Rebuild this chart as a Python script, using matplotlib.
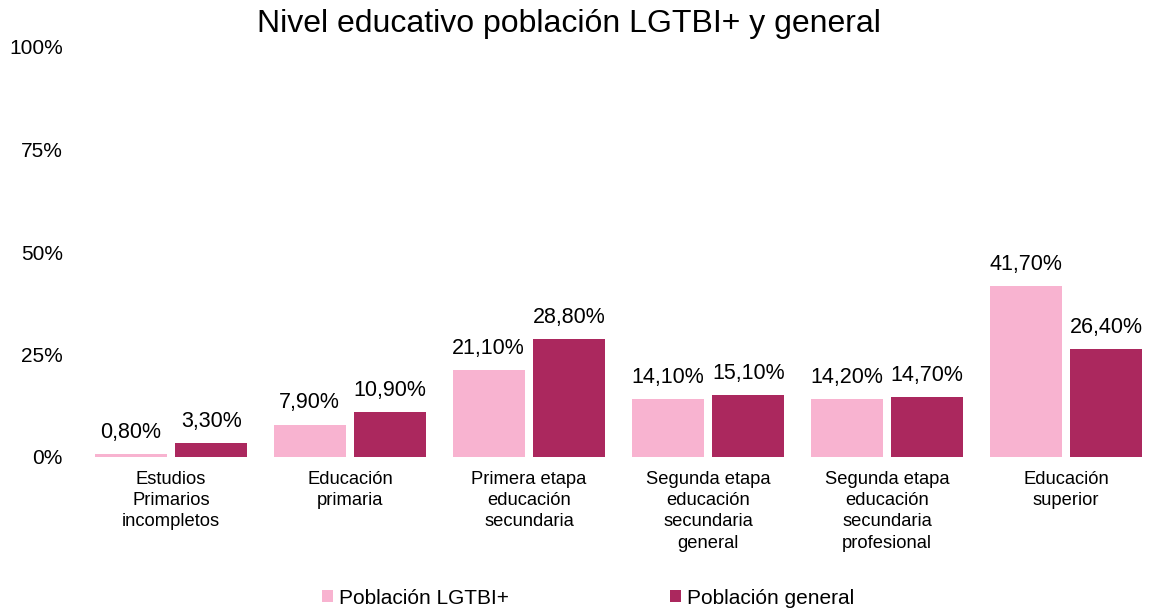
import matplotlib
matplotlib.use("Agg")
import matplotlib.pyplot as plt
import numpy as np

categories = ["Estudios\nPrimarios\nincompletos", "Educación\nprimaria",
              "Primera etapa\neducación\nsecundaria", "Segunda etapa\neducación\nsecundaria\ngeneral",
              "Segunda etapa\neducación\nsecundaria\nprofesional", "Educación\nsuperior"]
lgtbi = [0.8, 7.9, 21.1, 14.1, 14.2, 41.7]
general = [3.3, 10.9, 28.8, 15.1, 14.7, 26.4]
series_names = ["Población LGTBI+", "Población general"]
yticks = [0, 25, 50, 75, 100]

plt.rcParams['font.family'] = ['Liberation Sans', 'DejaVu Sans']

fig = plt.figure(figsize=(11.52, 6.12), dpi=100)
W, H = 1152, 612
ax = fig.add_axes([60 / W, 1 - 457 / H, (1152 - 60) / W, (457 - 47) / H])

x = np.arange(len(categories))
bw = 0.40
off = 0.225
c1, c2 = "#F8B3D0", "#AB285E"
b1 = ax.bar(x - off, lgtbi, bw, color=c1, label=series_names[0])
b2 = ax.bar(x + off, general, bw, color=c2, label=series_names[1])

for bars, vals in ((b1, lgtbi), (b2, general)):
    for r, v in zip(bars, vals):
        ax.annotate(f"{v:.2f}".replace(".", ",") + "%",
                    (r.get_x() + r.get_width() / 2, v), xytext=(0, 8),
                    textcoords="offset points", ha="center", va="bottom", fontsize=15.5)

ax.set_xlim((60 - 171) / 179, (1152 - 171) / 179)
ax.set_ylim(0, 100)
ax.set_yticks(yticks)
ax.set_yticklabels([f"{t}%" for t in yticks], fontsize=15)
ax.set_xticks(x)
ax.set_xticklabels(categories, fontsize=13.2, linespacing=1.33)
ax.tick_params(length=0)
ax.tick_params(axis="x", pad=10)
ax.tick_params(axis="y", pad=-2)
for s in ax.spines.values():
    s.set_visible(False)

fig.text(569 / W, 1 - 24 / H, "Nivel educativo población LGTBI+ y general",
         ha="center", va="center", fontsize=23)

fig.legend(handles=[b1, b2], labels=series_names, loc="center",
           bbox_to_anchor=(588 / W, 1 - 598 / H), ncol=2, frameon=False,
           fontsize=15, handlelength=0.55, handleheight=0.55, handletextpad=0.3,
           columnspacing=7.7)

fig.savefig("out.png", dpi=100)
